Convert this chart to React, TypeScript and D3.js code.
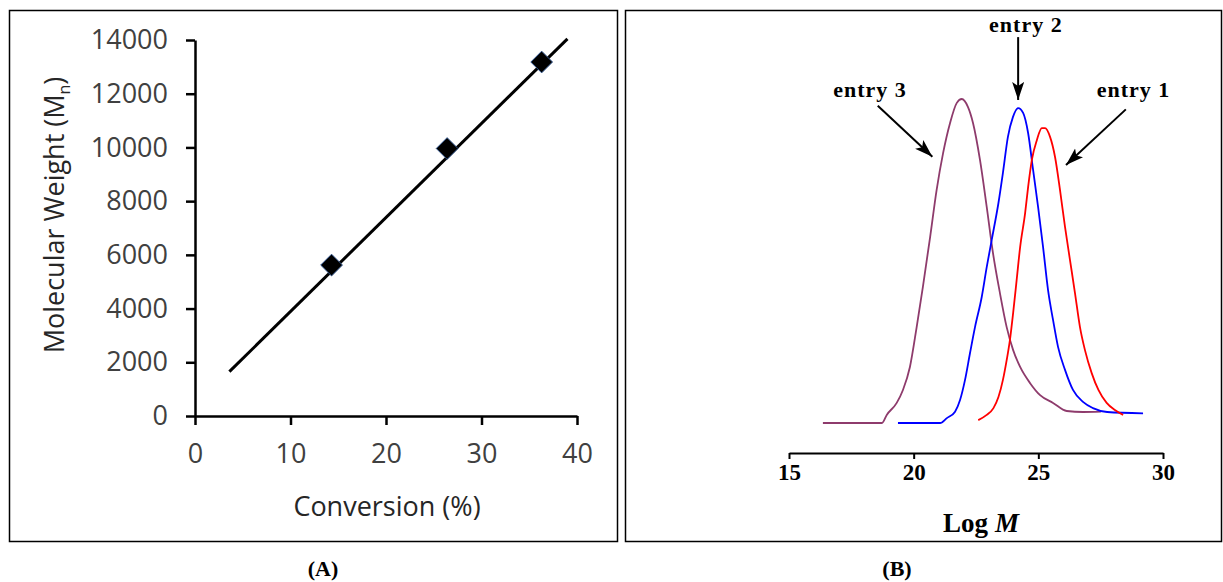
import React, { useRef, useEffect } from 'react';
import * as d3 from 'd3';

// Panel A: conversion (%) vs molecular weight
const conversion = [14.3, 26.4, 36.3];
const mnValues = [5620, 9960, 13180];
const fitX = [3.6, 39.0];
const fitY = [1650, 14040];
const yTicksA = [0, 2000, 4000, 6000, 8000, 10000, 12000, 14000];
const xTicksA = [0, 10, 20, 30, 40];

// Panel B: GPC traces (Log M vs detector response, arbitrary units)
const entry1LogM = [22.59, 22.93, 23.2, 23.4, 23.58, 23.73, 23.86, 23.99, 24.13, 24.27, 24.47, 24.59, 24.74, 24.94, 25.14, 25.27, 25.47, 25.67, 25.87, 26.07, 26.27, 26.47, 26.67, 26.87, 27.14, 27.41, 27.74, 28.07, 28.4];
const entry1Resp = [0.9, 2.5, 4.6, 8.0, 13.3, 19.4, 25.6, 34, 44.1, 54.3, 64.8, 72.8, 81.2, 87.3, 91, 91, 88.3, 82.1, 71.9, 60.5, 50.3, 40.1, 29.6, 22.5, 15.4, 10.2, 6.2, 4, 2.5];

const entry2LogM = [19.37, 21.06, 21.33, 21.66, 21.86, 22.06, 22.26, 22.46, 22.73, 22.93, 23.13, 23.4, 23.58, 23.78, 23.98, 24.19, 24.39, 24.59, 24.79, 24.99, 25.19, 25.39, 25.59, 25.79, 26.07, 26.39, 26.79, 27.19, 27.76, 29.2];
const entry2Resp = [0, 0, 1.5, 3.5, 7.1, 13.3, 21.6, 29.6, 38.9, 48.1, 56.5, 67.9, 77.2, 88.3, 94.4, 97.2, 95.7, 89.5, 78.1, 66.7, 54.3, 41, 31.8, 23.5, 16.4, 10.2, 6.5, 4.6, 3.4, 3.0];

const entry3LogM = [16.36, 18.73, 18.92, 19.32, 19.57, 19.85, 20.12, 20.37, 20.66, 20.92, 21.18, 21.46, 21.73, 21.93, 22.18, 22.38, 22.66, 22.93, 23.18, 23.46, 23.73, 23.99, 24.27, 24.67, 25.07, 25.59, 26.14, 26.79, 27.51];
const entry3Resp = [0, 0, 2.5, 6.2, 10.2, 17.3, 29.6, 42, 57.4, 71.9, 83.3, 92.6, 98.8, 100, 97.5, 92.6, 81.2, 66.7, 52.5, 40.1, 29.6, 22.5, 17.3, 12.3, 8.6, 6.2, 3.7, 3.4, 3.5];

const xTicksB = [15, 20, 25, 30];

const labels = ['entry 1', 'entry 2', 'entry 3'];
const labelX = [28.82, 24.5, 18.25];
const labelY = [103.1, 123.1, 103.1];
const arrowFrom = [[28.51, 96.8], [24.19, 119.1], [18.56, 97.9]];
const arrowTo = [[26.11, 79.6], [24.19, 99.7], [20.75, 82.2]];

const App = () => {
  const svgRef = useRef(null);

  useEffect(() => {
    const svg = d3.select(svgRef.current);
    svg.selectAll('*').remove();

    // panel frames
    svg.append('rect').attr('x', 9.5).attr('y', 10.5).attr('width', 608).attr('height', 531)
      .attr('fill', 'none').attr('stroke', '#000').attr('stroke-width', 1.5);
    svg.append('rect').attr('x', 625.5).attr('y', 10.5).attr('width', 596).attr('height', 531)
      .attr('fill', 'none').attr('stroke', '#000').attr('stroke-width', 1.5);

    // ---------- Panel A ----------
    const xA = d3.scaleLinear().domain([0, 40]).range([195, 577]);
    const yA = d3.scaleLinear().domain([0, 14000]).range([416, 40]);
    const sans = "'Open Sans', 'DejaVu Sans', sans-serif";

    const gA = svg.append('g');

    const yAxis = gA.append('g')
      .attr('transform', `translate(${xA(0)},0)`)
      .call(d3.axisLeft(yA).tickValues(yTicksA).tickFormat(d3.format('d')).tickSize(9).tickSizeOuter(0).tickPadding(18));
    const xAxis = gA.append('g')
      .attr('transform', `translate(0,${yA(0)})`)
      .call(d3.axisBottom(xA).tickValues(xTicksA).tickSize(9).tickSizeOuter(0).tickPadding(19));

    [yAxis, xAxis].forEach(ax => {
      ax.select('.domain').attr('stroke', '#000').attr('stroke-width', 2.5);
      ax.selectAll('.tick line').attr('stroke', '#000').attr('stroke-width', 2.5);
      ax.selectAll('.tick text')
        .attr('fill', '#404040')
        .style('font-family', sans)
        .style('font-size', '27px');
    });

    // fit line
    gA.append('line')
      .attr('x1', xA(fitX[0])).attr('y1', yA(fitY[0]))
      .attr('x2', xA(fitX[1])).attr('y2', yA(fitY[1]))
      .attr('stroke', '#000').attr('stroke-width', 3);

    // diamond markers
    const diamond = d3.symbol().type(d3.symbolDiamond2).size(300);
    gA.selectAll('.pt')
      .data(conversion)
      .join('path')
      .attr('transform', (d, i) => `translate(${xA(d)},${yA(mnValues[i])})`)
      .attr('d', diamond)
      .attr('fill', '#000')
      .attr('stroke', '#2b4f86')
      .attr('stroke-width', 1);

    gA.append('text')
      .attr('x', 387).attr('y', 507).attr('dy', '0.35em')
      .attr('text-anchor', 'middle')
      .attr('fill', '#262626')
      .style('font-family', sans).style('font-size', '27px')
      .text('Conversion (%)');

    const yTitle = gA.append('text')
      .attr('transform', 'translate(55,215) rotate(-90)')
      .attr('dy', '0.35em')
      .attr('text-anchor', 'middle')
      .attr('fill', '#262626')
      .style('font-family', sans).style('font-size', '27px');
    yTitle.append('tspan').text('Molecular Weight (M');
    yTitle.append('tspan').attr('dy', 6).style('font-size', '16px').text('n');
    yTitle.append('tspan').attr('dy', -6).text(')');

    svg.append('text')
      .attr('x', 323).attr('y', 576)
      .attr('text-anchor', 'middle')
      .style('font-family', "'Liberation Serif', serif").style('font-size', '22px').style('font-weight', 'bold')
      .text('(A)');

    // ---------- Panel B ----------
    const xB = d3.scaleLinear().domain([15, 30]).range([789, 1163]);
    const yB = d3.scaleLinear().domain([0, 100]).range([423, 99]);
    const serif = "'Liberation Serif', 'Times New Roman', serif";

    const gB = svg.append('g');
    const xAxisB = gB.append('g')
      .attr('transform', 'translate(0,453)')
      .call(d3.axisBottom(xB).tickValues(xTicksB).tickSize(6).tickSizeOuter(0).tickPadding(5));
    xAxisB.select('.domain').attr('stroke', '#000').attr('stroke-width', 2);
    xAxisB.selectAll('.tick line').attr('stroke', '#000').attr('stroke-width', 2);
    xAxisB.selectAll('.tick text')
      .attr('fill', '#000')
      .style('font-family', serif).style('font-size', '23px').style('font-weight', 'bold');

    const line = d3.line()
      .x(d => xB(d[0]))
      .y(d => yB(d[1]))
      .curve(d3.curveMonotoneX);

    const traces = [
      { x: entry3LogM, y: entry3Resp, color: '#8e3b6c' },
      { x: entry2LogM, y: entry2Resp, color: '#0000ff' },
      { x: entry1LogM, y: entry1Resp, color: '#ff0000' },
    ];
    traces.forEach(t => {
      gB.append('path')
        .datum(t.x.map((v, i) => [v, t.y[i]]))
        .attr('fill', 'none')
        .attr('stroke', t.color)
        .attr('stroke-width', 1.8)
        .attr('d', line);
    });

    // arrowhead marker
    svg.append('defs').append('marker')
      .attr('id', 'arrowhead')
      .attr('markerUnits', 'userSpaceOnUse')
      .attr('markerWidth', 20).attr('markerHeight', 14)
      .attr('refX', 18).attr('refY', 6)
      .attr('orient', 'auto')
      .append('path')
      .attr('d', 'M0,0 L18,6 L0,12 L4,6 Z')
      .attr('fill', '#000');

    labels.forEach((lab, i) => {
      gB.append('line')
        .attr('x1', xB(arrowFrom[i][0])).attr('y1', yB(arrowFrom[i][1]))
        .attr('x2', xB(arrowTo[i][0])).attr('y2', yB(arrowTo[i][1]))
        .attr('stroke', '#000').attr('stroke-width', 2)
        .attr('marker-end', 'url(#arrowhead)');
      gB.append('text')
        .attr('x', xB(labelX[i])).attr('y', yB(labelY[i])).attr('dy', '0.35em')
        .attr('text-anchor', 'middle')
        .style('font-family', serif).style('font-size', '22px').style('font-weight', 'bold')
        .style('letter-spacing', '1px')
        .text(lab);
    });

    const xTitle = gB.append('text')
      .attr('x', 981).attr('y', 532)
      .attr('text-anchor', 'middle')
      .style('font-family', serif).style('font-size', '27px').style('font-weight', 'bold');
    xTitle.append('tspan').text('Log ');
    xTitle.append('tspan').style('font-style', 'italic').text('M');

    svg.append('text')
      .attr('x', 897).attr('y', 576)
      .attr('text-anchor', 'middle')
      .style('font-family', serif).style('font-size', '22px').style('font-weight', 'bold')
      .text('(B)');
  }, []);

  return (
    <svg
      ref={svgRef}
      width={1223}
      height={582}
      style={{ position: 'absolute', left: 0, top: 0, background: '#fff' }}
    />
  );
};

export default App;
